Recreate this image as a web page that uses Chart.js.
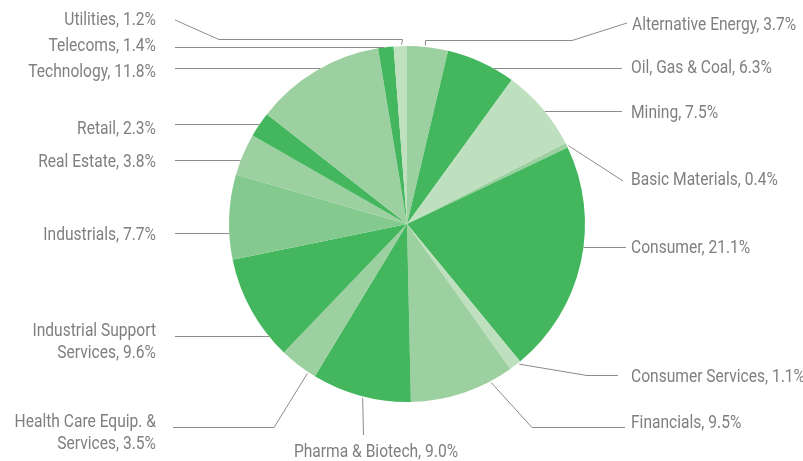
<!DOCTYPE html>
<html>
<head>
<meta charset="utf-8">
<script src="https://cdn.jsdelivr.net/npm/chart.js@4.4.0/dist/chart.umd.min.js"></script>
<style>
  html, body { margin: 0; padding: 0; background: #fff; }
</style>
</head>
<body>
<canvas id="pie" width="803" height="461"></canvas>
<script>
/* sector weights, clockwise from 12 o'clock */
const sectors = ["Alternative Energy", "Oil, Gas & Coal", "Mining", "Basic Materials", "Consumer",
  "Consumer Services", "Financials", "Pharma & Biotech", "Health Care Equip. & Services",
  "Industrial Support Services", "Industrials", "Real Estate", "Retail", "Technology", "Telecoms", "Utilities"];
const weights = [3.7, 6.3, 7.5, 0.4, 21.1, 1.1, 9.5, 9.0, 3.5, 9.6, 7.7, 3.8, 2.3, 11.8, 1.4, 1.2];

/* slice shades */
const DARK = "#44b75e", MID = "#84c98d", LIGHT = "#9dd0a0", PALE = "#bfe0bf";
const sliceColors = [LIGHT, DARK, PALE, LIGHT, DARK, PALE, LIGHT, DARK, LIGHT, DARK, MID, LIGHT, DARK, LIGHT, DARK, PALE];

/* label placement: text position, where the leader leaves the pie, and its bends */
const labelLayout = [
  { x: 632, y: 30, align: "left", anchor: { frac: 0.44 }, path: [[null, 40.5], [572, 40.5], [627, 23]] },
  { x: 631, y: 73, align: "left", anchor: { y: 68.5 }, path: [[622, 68.5]] },
  { x: 631, y: 118, align: "left", anchor: { y: 111.5 }, path: [[622, 111.5]] },
  { x: 631, y: 185, align: "left", anchor: { frac: 0.75 }, path: [[623, 181]] },
  { x: 631, y: 253, align: "left", anchor: { y: 247.5 }, path: [[626, 247.5]] },
  { x: 631, y: 382, align: "left", anchor: { frac: 0.2 }, path: [[587, 375.5], [618, 375.5]] },
  { x: 631, y: 428, align: "left", anchor: { frac: 0.22 }, path: [[532, 427.5], [625, 427.5]] },
  { x: 376, y: 457, align: "center", anchor: { frac: 0.48 }, path: [[null, 435]] },
  { x: 156, y: 427, align: "right", wrap: 4, anchor: { frac: 0.2 }, path: [[274, 427.5], [173, 427.5]] },
  { x: 156, y: 336, align: "right", wrap: 2, anchor: { y: 336.5 }, path: [[175, 336.5]] },
  { x: 156, y: 240, align: "right", anchor: { y: 233.5 }, path: [[175, 233.5]] },
  { x: 156, y: 167, align: "right", anchor: { y: 160.5 }, path: [[175, 160.5]] },
  { x: 156, y: 134, align: "right", anchor: { y: 124.5 }, path: [[175, 124.5]] },
  { x: 156, y: 77, align: "right", anchor: { y: 68.5 }, path: [[175, 68.5]] },
  { x: 156, y: 51, align: "right", anchor: { y: 47.5 }, path: [[175, 47.5]] },
  { x: 156, y: 25, align: "right", anchor: { frac: 0.6 }, path: [[null, 39.5], [219, 39.5], [175, 20]] },
];

const SQUEEZE = 0.82;

/* leader lines + condensed labels */
const leaderLabels = {
  id: "leaderLabels",
  afterDraw(chart) {
    const ctx = chart.ctx;
    const meta = chart.getDatasetMeta(0);
    ctx.save();
    ctx.font = "19px Roboto";
    ctx.fillStyle = "#7f7f7f";
    ctx.strokeStyle = "#8c8c8c";
    ctx.lineWidth = 1;
    ctx.textBaseline = "alphabetic";

    meta.data.forEach((arc, i) => {
      const lay = labelLayout[i];
      const p = arc.getProps(["x", "y", "startAngle", "endAngle", "outerRadius"], true);
      const r = p.outerRadius;
      let ax, ay;
      if (lay.anchor.frac !== undefined) {
        const a = p.startAngle + (p.endAngle - p.startAngle) * lay.anchor.frac;
        ax = p.x + (r + 1.5) * Math.cos(a);
        ay = p.y + (r + 1.5) * Math.sin(a);
      } else {
        const mid = (p.startAngle + p.endAngle) / 2;
        const side = Math.cos(mid) >= 0 ? 1 : -1;
        ay = lay.anchor.y;
        ax = p.x + side * Math.sqrt(Math.max(r * r - (ay - p.y) * (ay - p.y), 0));
      }

      ctx.beginPath();
      ctx.moveTo(ax, ay);
      let px = ax;
      lay.path.forEach(([x, y]) => {
        px = x === null ? Math.round(px) + 0.5 : x;
        ctx.lineTo(px, y);
      });
      ctx.stroke();

      const text = sectors[i] + ", " + weights[i].toFixed(1) + "%";
      let lines = [text];
      if (lay.wrap) {
        const words = text.split(" ");
        lines = [words.slice(0, lay.wrap).join(" "), words.slice(lay.wrap).join(" ")];
      }
      lines.forEach((ln, k) => {
        const w = ctx.measureText(ln).width * SQUEEZE;
        const left = lay.align === "right" ? lay.x - w : lay.align === "center" ? lay.x - w / 2 : lay.x;
        ctx.save();
        ctx.translate(left, lay.y + k * 22);
        ctx.scale(SQUEEZE, 1);
        ctx.fillText(ln, 0, 0);
        ctx.restore();
      });
    });
    ctx.restore();
  },
};

new Chart(document.getElementById("pie"), {
  type: "pie",
  data: {
    labels: sectors,
    datasets: [
      {
        data: weights,
        backgroundColor: sliceColors,
        borderWidth: 0,
      },
    ],
  },
  options: {
    responsive: false,
    animation: false,
    radius: 178,
    layout: {
      padding: { left: 229, right: 218, top: 46, bottom: 59 },
    },
    plugins: {
      legend: { display: false },
      tooltip: { enabled: false },
    },
  },
  plugins: [leaderLabels],
});
</script>
</body>
</html>
